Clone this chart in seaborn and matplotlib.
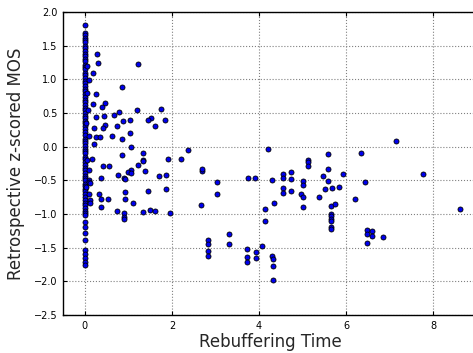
import matplotlib
matplotlib.use("Agg")
import matplotlib.pyplot as plt
import seaborn as sns
import pandas as pd

# Sessions without any stall (rebuffering time = 0)
stall_free_mos = [
    1.81, 1.69, 1.66, 1.62, 1.58, 1.55, 1.50, 1.47, 1.42, 1.38, 1.35, 1.30,
    1.27, 1.22, 1.18, 1.15, 1.10, 1.06, 1.02, 0.98, 0.94, 0.90, 0.86, 0.83,
    0.78, 0.74, 0.70, 0.66, 0.62, 0.58, 0.55, 0.50, 0.46, 0.42, 0.38, 0.35,
    0.30, 0.26, 0.22, 0.18, 0.12, 0.08, 0.05, 0.01, -0.03, -0.07, -0.10,
    -0.15, -0.19, -0.23, -0.27, -0.31, -0.34, -0.39, -0.43, -0.47, -0.50,
    -0.55, -0.59, -0.63, -0.66, -0.71, -0.75, -0.79, -0.83, -0.86, -0.91,
    -0.95, -0.98, -1.02, -1.12, -1.19, -1.28, -1.39, -1.54, -1.60, -1.66,
    -1.71, -1.76,
]

# Sessions with stalls
rebuffer_time = [
    0.27, 0.30, 0.19, 0.10, 1.23, 0.86, 0.25, 0.19, 0.47, 0.40, 0.07, 1.20,
    0.79, 0.66, 1.76, 0.26, 0.43, 0.87, 1.03, 1.53, 1.46, 1.83, 0.47, 0.22,
    0.41, 0.74, 1.62, 1.03, 0.62, 0.26, 0.36, 0.09, 0.86, 0.20, 1.06, 1.33,
    0.86, 2.37, 0.16, 1.92, 2.21, 1.33, 1.33, 1.23, 0.41, 0.56, 0.10, 1.39,
    1.06, 1.00, 1.05, 2.70, 2.70, 0.77, 1.70, 1.87, 0.37, 0.91, 0.10, 0.10,
    0.13, 0.92, 1.87, 1.46, 0.92, 3.04, 3.03, 0.09, 0.33, 0.37, 0.54, 0.92,
    0.12, 0.13, 1.10, 0.37, 2.67, 0.74, 0.90, 0.90, 0.90, 1.33, 1.49, 1.62,
    1.95, 2.83, 2.83, 2.83, 2.83,
    4.20, 3.75, 3.90, 4.30, 4.54, 4.54, 4.74, 4.74, 4.54, 4.54, 4.74, 4.34,
    4.13, 4.13, 5.00, 5.00, 4.96, 5.00, 5.01, 5.13, 5.13, 5.13, 5.57, 5.57,
    5.47, 5.57, 5.51, 5.68, 5.84, 5.92, 6.20, 5.37, 5.64, 5.74, 5.64, 5.64,
    5.64, 5.64, 5.64, 5.64, 3.30, 3.30, 3.73, 3.73, 3.73, 3.92, 3.92, 4.07,
    4.29, 4.32, 4.32, 4.32, 7.14, 6.34, 7.77, 6.44, 8.61, 6.47, 6.47, 6.59,
    6.59, 6.84, 6.47,
    0.04, 0.04, 0.03, 0.04, 0.03,
]
stalled_mos = [
    1.37, 1.25, 1.09, 0.99, 1.23, 0.89, 0.78, 0.63, 0.65, 0.59, 0.54, 0.54,
    0.52, 0.47, 0.56, 0.44, 0.45, 0.38, 0.40, 0.43, 0.40, 0.40, 0.32, 0.27,
    0.27, 0.30, 0.30, 0.20, 0.16, 0.14, 0.14, 0.16, 0.12, 0.04, -0.01, -0.09,
    -0.12, -0.05, -0.19, -0.18, -0.18, -0.20, -0.22, -0.27, -0.28, -0.29,
    -0.34, -0.36, -0.34, -0.37, -0.39, -0.36, -0.33, -0.42, -0.43, -0.42,
    -0.47, -0.47, -0.49, -0.52, -0.54, -0.48, -0.63, -0.66, -0.67, -0.53,
    -0.70, -0.71, -0.71, -0.78, -0.78, -0.78, -0.79, -0.83, -0.83, -0.90,
    -0.86, -0.95, -0.99, -1.04, -1.08, -0.97, -0.94, -0.96, -0.98, -1.39,
    -1.45, -1.55, -1.63,
    -0.03, -0.46, -0.46, -0.49, -0.41, -0.46, -0.37, -0.48, -0.62, -0.69,
    -0.66, -0.83, -0.93, -1.11, -0.51, -0.57, -0.70, -0.75, -0.89, -0.20,
    -0.23, -0.29, -0.11, -0.33, -0.43, -0.51, -0.63, -0.61, -0.60, -0.41,
    -0.78, -0.75, -0.88, -0.85, -1.00, -1.03, -1.07, -1.10, -1.19, -1.23,
    -1.30, -1.45, -1.52, -1.64, -1.71, -1.57, -1.65, -1.48, -1.63, -1.67,
    -1.77, -1.98, 0.09, -0.10, -0.41, -0.52, -0.93, -1.24, -1.30, -1.25,
    -1.32, -1.34, -1.43,
    1.20, 0.80, 0.35, -0.20, -0.60,
]

x_ticks = [0, 2, 4, 6, 8]
y_ticks = [-2.5, -2.0, -1.5, -1.0, -0.5, 0.0, 0.5, 1.0, 1.5, 2.0]

df = pd.DataFrame({
    "Rebuffering Time": [0.0] * len(stall_free_mos) + rebuffer_time,
    "Retrospective z-scored MOS": stall_free_mos + stalled_mos,
})

sns.set_style("white")
plt.rcParams["font.family"] = ["DejaVu Sans"]

fig = plt.figure(figsize=(4.73, 3.53), dpi=100)
ax = fig.add_axes([63 / 473, 1 - 315 / 353, (477 - 63) / 473, (315 - 12) / 353])

sns.scatterplot(
    data=df, x="Rebuffering Time", y="Retrospective z-scored MOS", ax=ax,
    color="#0000ee", edgecolor="black", linewidth=0.6, s=13, zorder=3,
)

ax.set_xlim(-0.5, 9)
ax.set_ylim(-2.5, 2.0)
ax.set_xticks(x_ticks)
ax.set_yticks(y_ticks)
ax.set_yticklabels([f"{v:.1f}".replace("-", "\u2212") for v in y_ticks])
ax.set_xticklabels([str(v) for v in x_ticks])

ax.grid(True, linestyle=":", color="0.5", linewidth=0.8)
ax.tick_params(direction="in", length=3, width=0.8, labelsize=7,
               top=True, right=True, bottom=True, left=True, colors="black",
               pad=4)
for side in ax.spines.values():
    side.set_color("black")
    side.set_linewidth(1.0)

ax.set_xlabel("Rebuffering Time", fontsize=12, labelpad=2)
ax.set_ylabel("Retrospective z-scored MOS", fontsize=12, labelpad=6)

fig.savefig("out.png", dpi=100)
